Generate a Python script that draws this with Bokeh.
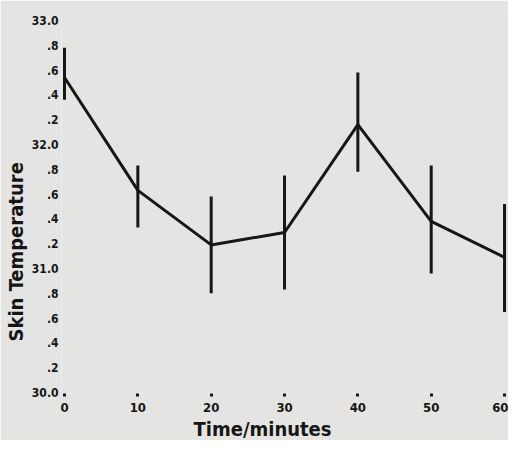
from bokeh.plotting import figure
from bokeh.models import ColumnDataSource, FixedTicker, Range1d, Title
from bokeh.embed import file_html
from bokeh.resources import INLINE

# Data
time_min = [0, 10, 20, 30, 40, 50, 60]
skin_temp = [32.54, 31.63, 31.19, 31.29, 32.16, 31.38, 31.09]
temp_upper = [32.78, 31.83, 31.58, 31.75, 32.58, 31.83, 31.52]
temp_lower = [32.36, 31.33, 30.80, 30.83, 31.78, 30.96, 30.65]

x_ticks = [0, 10, 20, 30, 40, 50, 60]
y_ticks = [30.0, 30.2, 30.4, 30.6, 30.8, 31.0, 31.2, 31.4, 31.6, 31.8,
           32.0, 32.2, 32.4, 32.6, 32.8, 33.0]
y_tick_labels = ["30.0", ".2", ".4", ".6", ".8", "31.0", ".2", ".4", ".6", ".8",
                 "32.0", ".2", ".4", ".6", ".8", "33.0"]

BG = "#e4e4e2"
INK = "#161616"
FONT = "DejaVu Sans Condensed"

src = ColumnDataSource(dict(t=time_min, m=skin_temp, hi=temp_upper, lo=temp_lower))

p = figure(width=508, height=440, output_backend="svg", toolbar_location=None,
           x_range=Range1d(-0.41, 60.54), y_range=Range1d(29.992, 33.064),
           min_border_left=58, min_border_right=0, min_border_top=12, min_border_bottom=46)

p.background_fill_color = BG
p.border_fill_color = BG
p.outline_line_color = None
p.xgrid.visible = False
p.ygrid.visible = False

p.line("t", "m", source=src, line_color=INK, line_width=3)
p.segment(x0="t", y0="lo", x1="t", y1="hi", source=src, line_color=INK, line_width=3)

# x axis: dots at ticks, labels below
xa = p.xaxis[0]
xa.ticker = FixedTicker(ticks=x_ticks)
xa.axis_line_color = None
xa.major_tick_line_color = INK
xa.major_tick_line_width = 3
xa.major_tick_in = 0
xa.major_tick_out = 3
xa.minor_tick_line_color = None
xa.major_label_standoff = 6
xa.major_label_text_font = FONT
xa.major_label_text_font_style = "bold"
xa.major_label_text_font_size = "13px"
xa.major_label_text_color = INK

ya = p.yaxis[0]
ya.ticker = FixedTicker(ticks=y_ticks)
ya.major_label_overrides = {t: l for t, l in zip(y_ticks, y_tick_labels)}
ya.axis_line_color = None
ya.major_tick_line_color = None
ya.major_tick_in = 0
ya.major_tick_out = 0
ya.minor_tick_line_color = None
ya.major_label_standoff = 3
ya.major_label_text_font = FONT
ya.major_label_text_font_style = "bold"
ya.major_label_text_font_size = "12px"
ya.major_label_text_color = INK

ytitle = Title(text="Skin Temperature", align="left", offset=52, standoff=2,
               text_font=FONT, text_font_style="bold", text_font_size="20px",
               text_color=INK)
p.add_layout(ytitle, "left")

xtitle = Title(text="Time/minutes", align="left", offset=132, standoff=0,
               text_font=FONT, text_font_style="bold", text_font_size="20px",
               text_color=INK)
p.add_layout(xtitle, "below")

open("out.html", "w").write(file_html(p, INLINE))
